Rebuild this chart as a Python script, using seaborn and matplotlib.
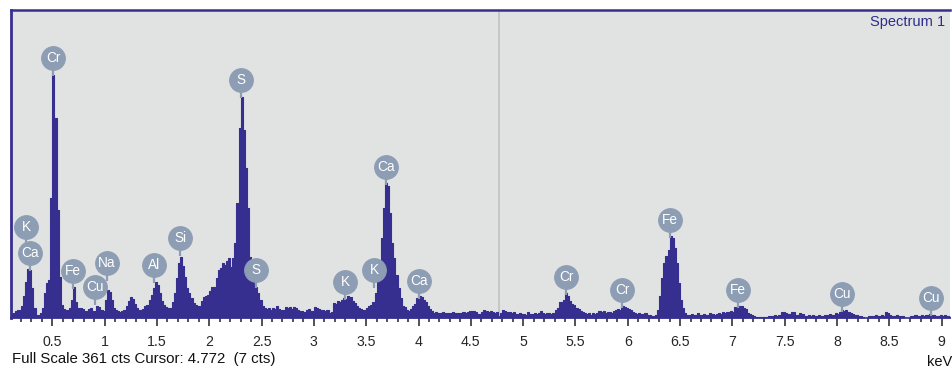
import numpy as np
import pandas as pd
import matplotlib
matplotlib.use("Agg")
import matplotlib.pyplot as plt
from matplotlib.ticker import MultipleLocator, FormatStrFormatter
import seaborn as sns

# Spectrum channels: 0.02 keV wide, first channel starts at 0.10 keV
channel_start = 0.10
channel_width = 0.02

# counts per channel, one row = 0.2 keV
counts = [
    5, 6, 8, 9, 9, 14, 26, 42, 57, 56,            # 0.10
    35, 12, 4, 4, 6, 12, 29, 41, 45, 141,         # 0.30
    285, 234, 127, 48, 15, 11, 9, 9, 12, 21,      # 0.50
    36, 19, 12, 12, 11, 8, 8, 11, 12, 8,          # 0.70
    8, 14, 13, 9, 8, 21, 33, 30, 21, 12,          # 0.90
    9, 8, 7, 8, 9, 14, 20, 25, 22, 16,            # 1.10
    12, 9, 9, 11, 14, 15, 21, 27, 35, 42,         # 1.30
    39, 29, 20, 15, 13, 12, 12, 19, 29, 47,       # 1.50
    64, 71, 61, 48, 35, 29, 23, 18, 15, 14,       # 1.70
    14, 20, 25, 26, 27, 32, 36, 36, 47, 56,       # 1.90
    59, 64, 62, 67, 70, 60, 70, 88, 135, 223,     # 2.10
    259, 220, 176, 129, 71, 53, 42, 36, 29, 21,   # 2.30
    14, 12, 11, 12, 9, 12, 11, 14, 11, 9,         # 2.50
    9, 13, 12, 13, 11, 13, 12, 9, 8, 8,           # 2.70
    7, 9, 11, 8, 8, 13, 12, 11, 9, 9,             # 2.90
    8, 9, 6, 7, 18, 16, 20, 19, 21, 23,           # 3.10
    22, 26, 25, 20, 18, 14, 12, 11, 9, 9,         # 3.30
    12, 14, 15, 19, 29, 47, 56, 94, 129, 158,     # 3.50
    155, 123, 88, 70, 50, 35, 23, 14, 13, 9,      # 3.70
    8, 11, 14, 16, 23, 26, 25, 21, 19, 14,        # 3.90
    11, 8, 6, 7, 6, 6, 7, 6, 6, 6,                # 4.10
    6, 7, 6, 6, 6, 6, 7, 6, 7, 8,                 # 4.30
    8, 8, 7, 5, 5, 7, 9, 8, 7, 8,                 # 4.50
    7, 6, 7, 2, 6, 9, 8, 7, 7, 6,                 # 4.70
    7, 5, 5, 6, 5, 5, 4, 7, 5, 5,                 # 4.90
    6, 5, 6, 8, 6, 5, 6, 6, 5, 6,                 # 5.10
    9, 12, 19, 19, 21, 29, 26, 20, 16, 15,        # 5.30
    12, 11, 8, 7, 6, 5, 6, 4, 6, 5,               # 5.50
    6, 8, 7, 8, 6, 7, 7, 6, 8, 9,                 # 5.70
    11, 9, 14, 13, 12, 11, 9, 7, 6, 5,            # 5.90
    6, 5, 5, 6, 4, 4, 2, 2, 4, 9,                 # 6.10
    26, 47, 64, 73, 80, 96, 94, 82, 64, 41,       # 6.30
    21, 12, 6, 4, 4, 5, 4, 4, 6, 4,               # 6.50
    4, 5, 4, 4, 6, 5, 4, 5, 6, 5,                 # 6.70
    7, 6, 7, 7, 8, 7, 13, 12, 14, 14,             # 6.90
    12, 11, 6, 5, 4, 2, 1, 1, 1, 1,               # 7.10
    1, 1, 2, 2, 2, 4, 2, 4, 7, 7,                 # 7.30
    6, 5, 5, 7, 7, 4, 4, 6, 5, 2,                 # 7.50
    2, 4, 2, 4, 2, 2, 4, 2, 2, 4,                 # 7.70
    4, 5, 4, 4, 6, 5, 7, 9, 8, 9,                 # 7.90
    7, 6, 5, 4, 4, 2, 2, 1, 0, 0,                 # 8.10
    2, 2, 2, 4, 2, 2, 4, 2, 7, 6,                 # 8.30
    4, 2, 2, 4, 2, 2, 2, 0, 0, 0,                 # 8.50
    2, 2, 4, 2, 2, 4, 2, 4, 4, 5,                 # 8.70
    4, 4, 2, 2, 4, 2, 4, 2, 2, 2,                 # 8.90
]

# element markers: name, energy (keV), height of the badge (cts)
label_names = ["K", "Ca", "Cr", "Fe", "Cu", "Na", "Al", "Si", "S", "S",
               "K", "K", "Ca", "Ca", "Cr", "Cr", "Fe", "Fe", "Cu", "Cu"]
label_energy = [0.249, 0.287, 0.507, 0.698, 0.908, 1.023, 1.472, 1.721, 2.304, 2.447,
                3.298, 3.576, 3.690, 4.006, 5.411, 5.946, 6.405, 7.055, 8.050, 8.900]
label_counts = [107, 76, 305, 55, 36, 64, 62, 94, 279, 56,
                42, 56, 177, 43, 48, 33, 115, 33, 28, 23]

full_scale = 361
cursor_kev = 4.772
cursor_cts = 7

n = len(counts)
edges = channel_start + channel_width * np.arange(n + 1)
# repeat last value so the final channel gets its full width in a step plot
df = pd.DataFrame({"energy": edges, "cts": counts + [counts[-1]]})

sns.set_style("white")
plt.rcParams["font.family"] = ["Liberation Sans", "DejaVu Sans"]

navy = "#372f8f"
badge = "#8d9db3"

fig = plt.figure(figsize=(9.53, 3.71), dpi=100)
ax = fig.add_axes([11 / 953, 53 / 371, 939 / 953, 308 / 371])
ax.set_facecolor("#e1e3e3")

# spectrum as a filled step histogram
sns.lineplot(data=df, x="energy", y="cts", drawstyle="steps-post",
             color=navy, lw=0.8, ax=ax, zorder=2)
ax.fill_between(df["energy"], 0, df["cts"], step="post", color=navy,
                lw=0, antialiased=False, zorder=2)

# cursor line
ax.axvline(cursor_kev, color="#c4c6c6", lw=1.3, zorder=0.5)

# element badges
stem = 21
ax.vlines(label_energy, np.array(label_counts) - stem, label_counts,
          color=badge, lw=1.6, zorder=3)
sns.scatterplot(x=label_energy, y=label_counts, s=290, color=badge,
                edgecolor=badge, linewidth=0.8, zorder=4, ax=ax, legend=False)
for name, e, c in zip(label_names, label_energy, label_counts):
    ax.text(e, c, name, color="white", fontsize=9.8, ha="center",
            va="center", zorder=5)

ax.set_xlim(0.105, 9.08)
ax.set_ylim(0, full_scale)
ax.set_xlabel("")
ax.set_ylabel("")
ax.set_yticks([])

ax.xaxis.set_major_locator(MultipleLocator(0.5))
ax.xaxis.set_minor_locator(MultipleLocator(0.1))
ax.xaxis.set_major_formatter(FormatStrFormatter("%g"))
ax.tick_params(axis="x", which="major", direction="out", length=6, width=1.1,
               color="#222222", labelsize=10.2, pad=6, bottom=True)
ax.tick_params(axis="x", which="minor", direction="out", length=3, width=1.1,
               color="#222222", bottom=True)

for side in ["left", "top", "bottom"]:
    ax.spines[side].set_color(navy)
ax.spines["left"].set_linewidth(2)
ax.spines["top"].set_linewidth(1.8)
ax.spines["bottom"].set_linewidth(1.2)
ax.spines["right"].set_visible(False)

ax.text(0.995, 0.96, "Spectrum 1", transform=ax.transAxes, ha="right",
        va="center", color="#2e2b8c", fontsize=10.5)

fig.text(12 / 953, 0.033, f"Full Scale {full_scale} cts Cursor: {cursor_kev}  ({cursor_cts} cts)",
         ha="left", va="center", fontsize=10.8, color="#111111")
fig.text(0.999, 0.024, "keV", ha="right", va="center", fontsize=10.5, color="#111111")

fig.savefig("out.png", dpi=100)
